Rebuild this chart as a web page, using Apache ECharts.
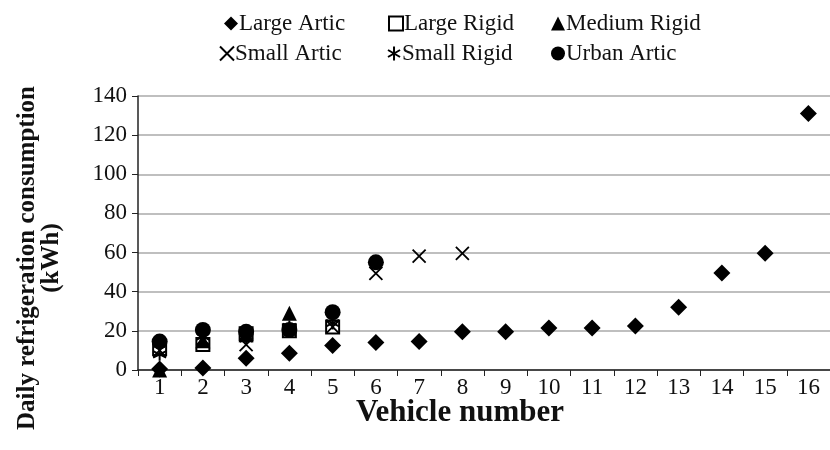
<!DOCTYPE html>
<html><head><meta charset="utf-8">
<script src="https://cdn.jsdelivr.net/npm/echarts@6/dist/echarts.min.js"></script>
<style>html,body{margin:0;padding:0;background:#fff}#c{width:830px;height:450px}</style>
</head><body><div id="c"></div>
<script>
const vehicles = ['1','2','3','4','5','6','7','8','9','10','11','12','13','14','15','16'];
const yTicks = [0,20,40,60,80,100,120,140];
const largeArtic   = [0.5,1,6,8.5,12.5,14,14.5,19.6,19.6,21.5,21.5,22.5,32,49.5,59.6,131];
const largeRigid   = [11,13,18.5,20,22,null,null,null,null,null,null,null,null,null,null,null];
const mediumRigid  = [0,15,18,29,null,null,null,null,null,null,null,null,null,null,null,null];
const smallArtic   = [10,16,13,null,22,49.4,58.2,59.6,null,null,null,null,null,null,null,null];
const smallRigid   = [8,17,16,22,24,null,null,null,null,null,null,null,null,null,null,null];
const urbanArtic   = [14.5,20.5,19.5,20.5,29.5,55,null,null,null,null,null,null,null,null,null,null];

const font = 'Liberation Serif';
const X_PATH = 'path://M0,0L10,10M10,0L0,10';
const AST_PATH = 'path://M5,0L5,10M0.7,2.5L9.3,7.5M0.7,7.5L9.3,2.5';

const seriesDefs = [
  {name:'Large Artic', data:largeArtic, symbol:'diamond', size:17, style:{color:'#000', opacity:1}},
  {name:'Large Rigid', data:largeRigid, symbol:'rect', size:13, style:{color:'#fff', borderColor:'#000', borderWidth:2, opacity:1}},
  {name:'Medium Rigid', data:mediumRigid, symbol:'triangle', size:15, style:{color:'#000', opacity:1}},
  {name:'Small Artic', data:smallArtic, symbol:X_PATH, size:13, style:{color:'rgba(0,0,0,0)', borderColor:'#000', borderWidth:1.8, opacity:1}},
  {name:'Small Rigid', data:smallRigid, symbol:AST_PATH, size:13, style:{color:'rgba(0,0,0,0)', borderColor:'#000', borderWidth:2, opacity:1}},
  {name:'Urban Artic', data:urbanArtic, symbol:'circle', size:16, style:{color:'#000', opacity:1}}
];

const legendPos = [[224,12],[388,12],[551,12],[219,42],[387,42],[551,42]];
const legends = seriesDefs.map((s,i)=>({
  data:[s.name], left:legendPos[i][0], top:legendPos[i][1],
  itemWidth:14, itemHeight:14, itemGap:0, padding:0, selectedMode:false,
  textStyle:{fontFamily:font, fontSize:23, color:'#111', padding:[0,0,0,-4]}
}));

const chart = echarts.init(document.getElementById('c'));
chart.setOption({
  animation:false,
  backgroundColor:'#fff',
  legend: legends,
  grid:{left:138, right:-11, top:96, bottom:80, containLabel:false},
  xAxis:{
    type:'category', data:vehicles, boundaryGap:true,
    axisLine:{lineStyle:{color:'#222', width:1.5}},
    axisTick:{show:true, alignWithLabel:false, length:6, inside:false, lineStyle:{color:'#222'}},
    axisLabel:{fontFamily:font, fontSize:23, color:'#111', margin:6, interval:0},
    splitLine:{show:false}
  },
  yAxis:{
    type:'value', min:yTicks[0], max:yTicks[yTicks.length-1], interval:20,
    axisLine:{show:true, lineStyle:{color:'#222', width:1.5}},
    axisTick:{show:true, length:6, lineStyle:{color:'#222'}},
    axisLabel:{fontFamily:font, fontSize:23, color:'#111', margin:11},
    splitLine:{show:true, lineStyle:{color:'#aaaaaa', width:1.5}}
  },
  graphic:[
    {type:'text', x:40, y:258, rotation:Math.PI/2,
     style:{text:'Daily refrigeration consumption\n(kWh)', font:'bold 25px "Liberation Serif"', fill:'#111',
            textAlign:'center', textVerticalAlign:'middle', lineHeight:24}},
    {type:'text', x:460, y:413,
     style:{text:'Vehicle number', font:'bold 31px "Liberation Serif"', fill:'#111',
            textAlign:'center', textVerticalAlign:'middle'}}
  ],
  series: seriesDefs.map(s=>({
    name:s.name, type:'scatter', data:s.data, symbol:s.symbol, symbolSize:s.size,
    itemStyle:s.style, emphasis:{disabled:true}
  }))
});
</script></body></html>
